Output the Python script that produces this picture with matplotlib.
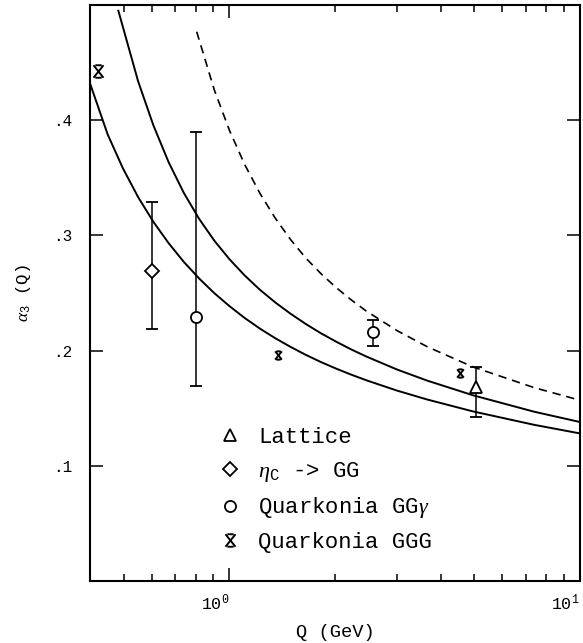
import matplotlib
matplotlib.use("Agg")
import matplotlib.pyplot as plt
from matplotlib.path import Path
from matplotlib.lines import Line2D
from matplotlib.ticker import FixedLocator, FixedFormatter, LogLocator, NullFormatter

plt.rcParams['font.family'] = ['Liberation Mono', 'DejaVu Sans']
plt.rcParams['mathtext.fontset'] = 'custom'
plt.rcParams['mathtext.rm'] = 'Liberation Mono'
plt.rcParams['mathtext.it'] = 'Liberation Serif:italic'

# curves: Q (GeV), alpha_3(Q)
lower_q = [0.400, 0.4493, 0.4966, 0.5488, 0.6065, 0.6703, 0.7408, 0.8187, 0.9048, 1.000, 1.1052, 1.2214,
           1.3499, 1.4918, 1.6487, 1.8221, 2.0138, 2.2255, 2.4596, 3.0042, 3.6693, 4.953, 7.389, 10.0]
lower_a = [0.4320, 0.3876, 0.3582, 0.3332, 0.3118, 0.2933, 0.2770, 0.2627, 0.2499, 0.2386, 0.2283, 0.2191,
           0.2108, 0.2033, 0.1964, 0.1901, 0.1844, 0.1791, 0.1742, 0.1653, 0.1575, 0.1472, 0.1356, 0.1281]

middle_q = [0.4819, 0.5488, 0.6065, 0.6703, 0.7408, 0.8187, 0.9048, 1.000, 1.1052, 1.2214, 1.3499,
            1.4918, 1.6487, 1.8221, 2.0138, 2.2255, 2.4596, 3.0042, 3.6693, 4.953, 7.389, 10.0]
middle_a = [0.4950, 0.4337, 0.3956, 0.3636, 0.3369, 0.3145, 0.2955, 0.2793, 0.2652, 0.2528, 0.2419,
            0.2321, 0.2232, 0.2151, 0.2078, 0.2010, 0.1948, 0.1836, 0.1739, 0.1612, 0.1470, 0.1380]

dashed_q = [0.8062, 0.9048, 1.000, 1.1052, 1.2214, 1.3499, 1.4918, 1.6487, 1.8221, 2.0138, 2.2255,
            2.4596, 3.0042, 3.6693, 4.953, 7.389, 10.0]
dashed_a = [0.4768, 0.4264, 0.3911, 0.3615, 0.3365, 0.3151, 0.2966, 0.2805, 0.2669, 0.2548, 0.2440,
            0.2342, 0.2174, 0.2033, 0.1858, 0.1679, 0.1569]

# data points with asymmetric errors (lower, upper end of the bar)
lattice_q = [5.05]
lattice_a = [0.168]
lattice_lo = [0.142]
lattice_hi = [0.1855]

etac_q = [0.600]
etac_a = [0.269]
etac_lo = [0.219]
etac_hi = [0.329]

ggy_q = [0.803, 2.56]
ggy_a = [0.229, 0.2164]
ggy_lo = [0.169, 0.2043]
ggy_hi = [0.3895, 0.2266]

ggg_q = [0.421, 1.378, 4.546]
ggg_a = [0.4427, 0.1962, 0.1803]
ggg_ms = [9, 6, 6]

y_ticks = [0.1, 0.2, 0.3, 0.4]
y_ticklabels = ['.1', '.2', '.3', '.4']

legend_labels = ['Lattice', r'$\eta_{\mathrm{C}}$ -> GG', r'Quarkonia GG$\gamma$', 'Quarkonia GGG']

# X with short bars top and bottom
star = Path([(-0.8, 1), (0.8, -1), (-0.8, -1), (0.8, 1),
             (-0.5, 1), (0.5, 1), (-0.5, -1), (0.5, -1)],
            [Path.MOVETO, Path.LINETO, Path.MOVETO, Path.LINETO,
             Path.MOVETO, Path.LINETO, Path.MOVETO, Path.LINETO])

fig = plt.figure(figsize=(5.83, 6.43), dpi=100)
ax = fig.add_axes([90 / 583, 62 / 643, 490 / 583, 576 / 643])

ax.plot(lower_q, lower_a, 'k-', lw=1.4)
ax.plot(middle_q, middle_a, 'k-', lw=1.4)
ax.plot(dashed_q, dashed_a, color='black', lw=1.2, dashes=(5, 3.5))

def err(vals, lo, hi):
    return [[v - l for v, l in zip(vals, lo)], [h - v for v, h in zip(vals, hi)]]

ebkw = dict(ecolor='black', elinewidth=1.1, capsize=4.5, capthick=1.1,
            mfc='white', mec='black', mew=1.3, ls='none')
ax.errorbar(lattice_q, lattice_a, yerr=err(lattice_a, lattice_lo, lattice_hi), fmt='^', ms=9, **ebkw)
ax.errorbar(etac_q, etac_a, yerr=err(etac_a, etac_lo, etac_hi), fmt='D', ms=7, **ebkw)
ax.errorbar(ggy_q, ggy_a, yerr=err(ggy_a, ggy_lo, ggy_hi), fmt='o', ms=8, **ebkw)
for q, a, ms in zip(ggg_q, ggg_a, ggg_ms):
    ax.plot(q, a, ls='none', marker=star, ms=ms, mec='black', mew=1.4)

ax.set_xscale('log')
ax.set_xlim(0.4, 10)
ax.set_ylim(0, 0.5)

ax.xaxis.set_major_locator(LogLocator(base=10))
ax.xaxis.set_minor_locator(LogLocator(base=10, subs=range(2, 10)))
ax.xaxis.set_minor_formatter(NullFormatter())
ax.yaxis.set_major_locator(FixedLocator(y_ticks))
ax.yaxis.set_major_formatter(FixedFormatter(y_ticklabels))

ax.tick_params(which='both', direction='in', top=True, right=True, width=1.1)
ax.tick_params(which='major', length=9.5)
ax.tick_params(which='minor', length=5)
ax.tick_params(axis='y', labelsize=11.5, pad=13)
ax.tick_params(axis='x', labelsize=12, pad=8)
for lab in ax.get_xticklabels():
    lab.set_ha('right')
for s in ax.spines.values():
    s.set_linewidth(1.5)

ax.set_xlabel('Q (GeV)', fontsize=13.5, labelpad=8)
ax.set_ylabel(r'$\alpha_3$ (Q)', fontsize=12.5, labelpad=14)

handles = [
    Line2D([], [], ls='none', marker='^', ms=9, mfc='white', mec='black', mew=1.3),
    Line2D([], [], ls='none', marker='D', ms=7, mfc='white', mec='black', mew=1.3),
    Line2D([], [], ls='none', marker='o', ms=8, mfc='white', mec='black', mew=1.3),
    Line2D([], [], ls='none', marker=star, ms=9, mec='black', mew=1.4),
]
ax.legend(handles, legend_labels, loc='center left', bbox_to_anchor=(0.263, 0.158),
          frameon=False, fontsize=16, handlelength=1.0, handletextpad=0.76,
          borderpad=0, borderaxespad=0, labelspacing=0.53)

fig.savefig('out.png', dpi=100)
